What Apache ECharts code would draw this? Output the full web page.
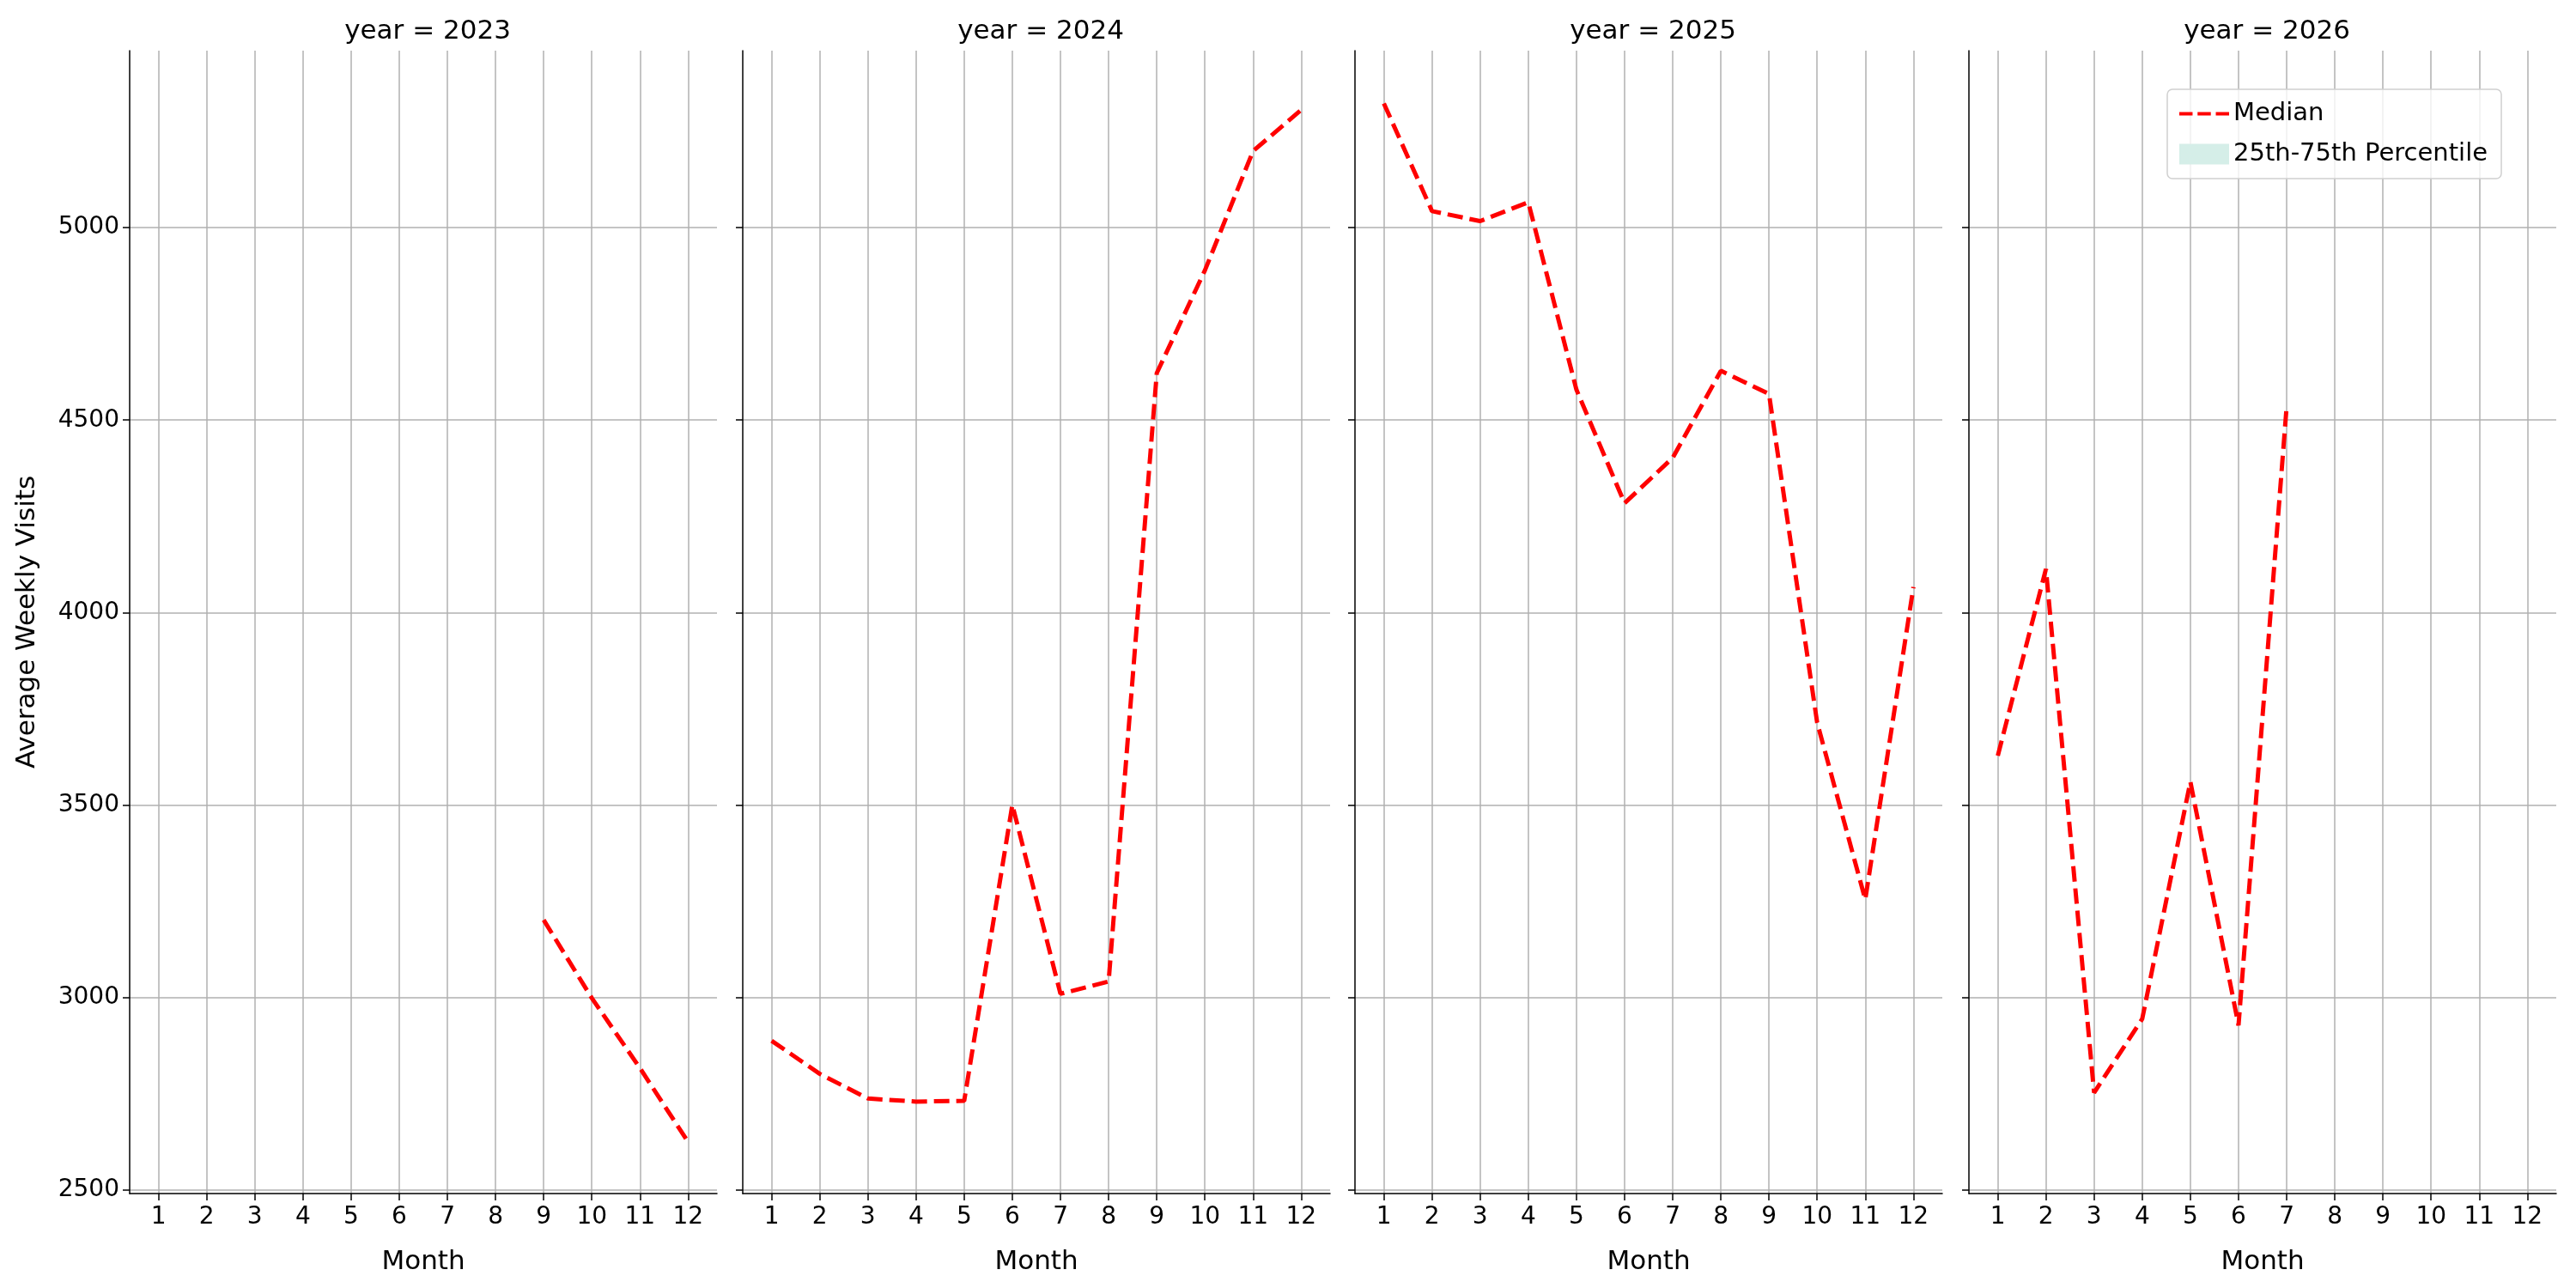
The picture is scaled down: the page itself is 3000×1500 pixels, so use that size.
<!DOCTYPE html>
<html><head><meta charset="utf-8">
<script src="https://cdn.jsdelivr.net/npm/echarts@6/dist/echarts.min.js"></script>
<style>html,body{margin:0;padding:0;background:#fff}#c{width:3000px;height:1500px}</style>
</head><body><div id="c"></div>
<script>
const years = [2023, 2024, 2025, 2026];
const months = [1,2,3,4,5,6,7,8,9,10,11,12];
const yTicks = [2500,3000,3500,4000,4500,5000];
const median2023 = [null,null,null,null,null,null,null,null,3201,2998,2816,2624];
const median2024 = [2887,2801,2737,2729,2731,3500,3009,3041,4622,4889,5199,5306];
const median2025 = [5323,5043,5017,5066,4579,4284,4402,4628,4568,3714,3254,4066];
const median2026 = [3628,4113,2752,2944,3560,2927,4536,null,null,null,null,null];
const medians = [median2023, median2024, median2025, median2026];

const lefts = [151, 865, 1578, 2293];
const widths = [684, 684, 684, 684];
const font = 'DejaVu Sans';
const grids = [], xAxes = [], yAxes = [], series = [], titles = [];
years.forEach((yr, i) => {
  grids.push({left: lefts[i], width: widths[i], top: 59, height: 1331});
  xAxes.push({type:'value', gridIndex:i, min:0.4, max:12.6,
    name:'Month', nameLocation:'middle', nameGap:64, nameTextStyle:{fontSize:31,color:'#000',fontFamily:font},
    axisLine:{show:true,onZero:false,lineStyle:{color:'#000',width:1.5}},
    axisTick:{show:true,length:8,customValues:months,lineStyle:{color:'#000',width:1.5}},
    axisLabel:{customValues:months,fontSize:28,color:'#000',fontFamily:font,margin:14},
    splitLine:{show:true,lineStyle:{color:'#b0b0b0',width:1.5}}});
  yAxes.push({type:'value', gridIndex:i, min:2490, max:5460,
    name: i===0 ? 'Average Weekly Visits' : '', nameLocation:'middle', nameGap:104,
    nameTextStyle:{fontSize:31,color:'#000',fontFamily:font},
    axisLine:{show:true,lineStyle:{color:'#000',width:1.5}},
    axisTick:{show:true,length:8,customValues:yTicks,lineStyle:{color:'#000',width:1.5}},
    axisLabel:{show:i===0,customValues:yTicks,formatter:v=>String(v),fontSize:28,color:'#000',fontFamily:font,margin:12},
    splitLine:{show:true,lineStyle:{color:'#b0b0b0',width:1.5}}});
  series.push({name:'Median', type:'line', xAxisIndex:i, yAxisIndex:i,
    data: months.map((m,k)=>[m, medians[i][k]]), showSymbol:false, symbol:'none',
    connectNulls:false, lineStyle:{color:'#ff0000',width:5,type:[18,8]}, itemStyle:{color:'#ff0000'}});
  titles.push({text:'year = '+yr, left: lefts[i]+widths[i]/2, top:16, textAlign:'center',
    textStyle:{fontSize:31,fontWeight:'normal',color:'#000',fontFamily:font}});
});
series.push({name:'25th-75th Percentile', type:'line', xAxisIndex:3, yAxisIndex:3, data:[],
  itemStyle:{color:'#d5eee8'}, lineStyle:{width:0}, areaStyle:{color:'#d5eee8'}});

const dashIcon = 'path://M0,0 L16,0 L16,4 L0,4 Z M22,0 L38,0 L38,4 L22,4 Z M44,0 L60,0 L60,4 L44,4 Z';
const chart = echarts.init(document.getElementById('c'), null, {renderer:'canvas'});
chart.setOption({
  animation:false, backgroundColor:'#fff', title:titles, grid:grids, xAxis:xAxes, yAxis:yAxes, series:series,
  legend:{left:2524, top:104, orient:'vertical', itemGap:18, itemWidth:58, itemHeight:24,
    padding:[14,16,14,14], borderColor:'#d0d0d0', borderWidth:1.5, borderRadius:6, backgroundColor:'rgba(255,255,255,0.8)',
    textStyle:{fontSize:29,color:'#000',fontFamily:font},
    data:[{name:'Median', icon:dashIcon, itemStyle:{color:'#ff0000'}},
          {name:'25th-75th Percentile', icon:'rect', itemStyle:{color:'#d5eee8'}}]}
});
</script></body></html>
